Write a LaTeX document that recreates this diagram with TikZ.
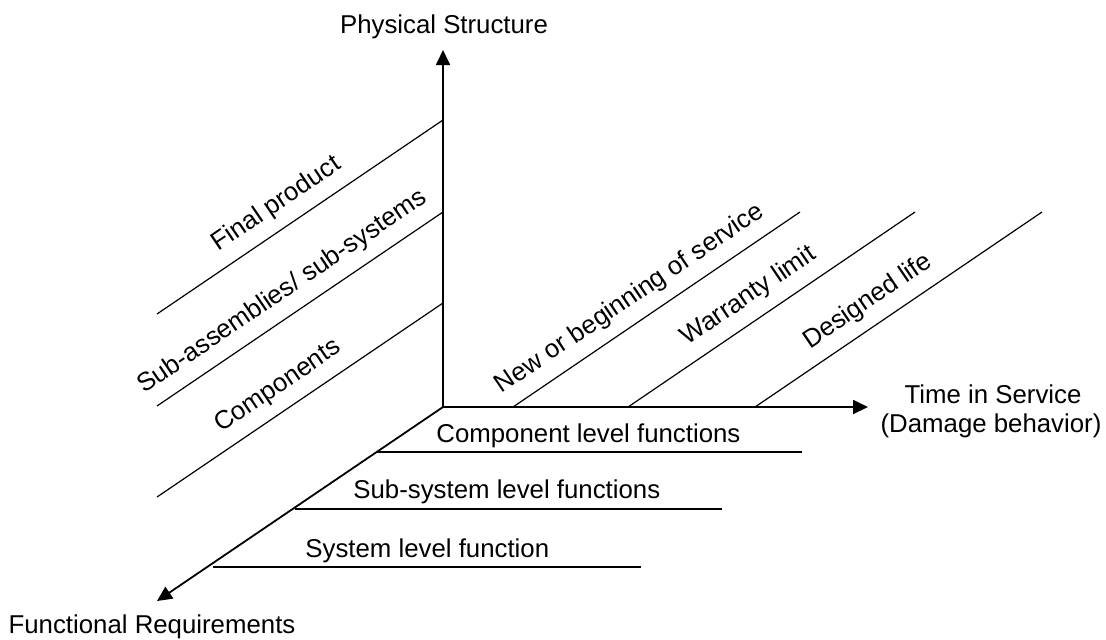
\documentclass[tikz,border=0pt]{standalone}
\usepackage{fontspec}
\setmainfont{Liberation Sans}
\usetikzlibrary{arrows.meta,calc}
\begin{document}
\begin{tikzpicture}[x=0.5pt,y=-0.5pt,
  axis/.style={line width=0.9pt,-{Triangle[length=7.5pt,width=7pt]}},
  guide/.style={line width=0.6pt},
  lbl/.style={font=\fontsize{12.9pt}{15pt}\selectfont, inner sep=0pt, anchor=base},
  lblw/.style={lbl, anchor=base west},
  slant/.style={lbl, rotate=34.15}]
\useasboundingbox (0,0) rectangle (1106,639);

% three axes meeting at the origin
\coordinate (O)    at (443,407);
\coordinate (ytip) at (443,50);
\coordinate (xtip) at (868,407);
\coordinate (ztip) at (157,601);
\draw[axis] (O) -- (ytip);
\draw[axis] (O) -- (xtip);
\draw[axis] (O) -- (ztip);

% physical structure levels (slanted, left of the vertical axis)
\coordinate (fpR) at (443,120); \coordinate (fpL) at (157,314);
\coordinate (saR) at (443,212); \coordinate (saL) at (157,406);
\coordinate (cpR) at (443,303); \coordinate (cpL) at (157,497);
\draw[guide] (fpL) -- (fpR);
\draw[guide] (saL) -- (saR);
\draw[guide] (cpL) -- (cpR);

% time-in-service milestones (slanted, above the horizontal axis)
\coordinate (nbL) at (513,407); \coordinate (nbR) at (800,212);
\coordinate (wlL) at (628,407); \coordinate (wlR) at (915,212);
\coordinate (dlL) at (755,407); \coordinate (dlR) at (1042,212);
\draw[guide] (nbL) -- (nbR);
\draw[guide] (wlL) -- (wlR);
\draw[guide] (dlL) -- (dlR);

% functional requirement levels (horizontal, from the diagonal axis)
\coordinate (clL) at (377,452); \coordinate (clR) at (802,452);
\coordinate (ssL) at (295,509); \coordinate (ssR) at (722,509);
\coordinate (syL) at (213,567); \coordinate (syR) at (641,567);
\draw[guide] (clL) -- (clR);
\draw[guide] (ssL) -- (ssR);
\draw[guide] (syL) -- (syR);

% axis titles
\node[lbl] (tPhys) at (444,33) {Physical Structure};
\node[lbl] (tTime) at (993,403) {Time in Service};
\node[lbl] (tDmg)  at (991,432) {(Damage behavior)};
\node[lbl] (tFunc) at (152,633) {Functional Requirements};

% slanted labels
\node[slant] (lFp) at ($(fpL)!0.465!(fpR)+(124.15:8.5pt)$) {Final product};
\node[slant] (lSa) at ($(saL)!0.486!(saR)+(124.15:8.5pt)$) {Sub-assemblies/ sub-systems};
\node[slant] (lCp) at ($(cpL)!0.470!(cpR)+(124.15:8.5pt)$) {Components};
\node[slant] (lNb) at ($(nbL)!0.453!(nbR)+(124.15:8.5pt)$) {New or beginning of service};
\node[slant] (lWl) at ($(wlL)!0.467!(wlR)+(124.15:8.5pt)$) {Warranty limit};
\node[slant] (lDl) at ($(dlL)!0.440!(dlR)+(124.15:8.5pt)$) {Designed life};

% function level labels
\node[lblw] (lCl) at (436,442) {Component level functions};
\node[lblw] (lSs) at (353,498) {Sub-system level functions};
\node[lblw] (lSy) at (305,557) {System level function};
\end{tikzpicture}
\end{document}
